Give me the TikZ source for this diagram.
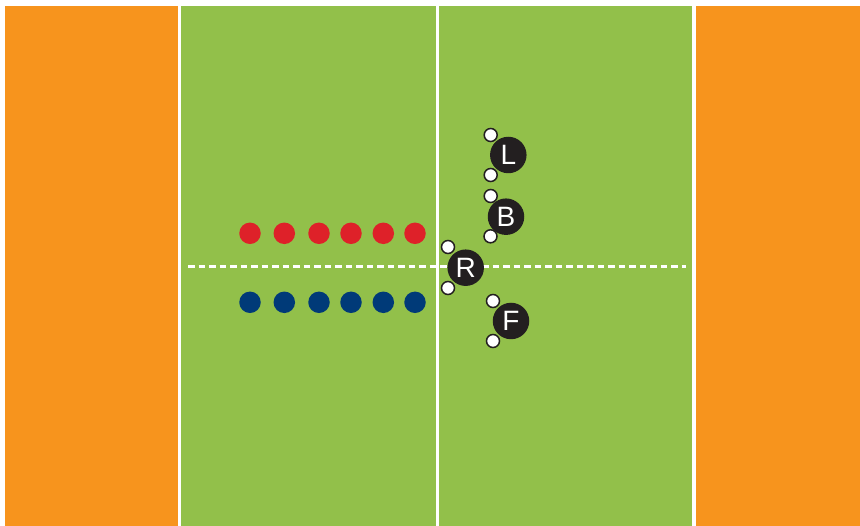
\documentclass[tikz,border=0pt]{standalone}
\usepackage{fontspec}
\setmainfont{Liberation Sans}
\usetikzlibrary{positioning}
\definecolor{pitchgreen}{HTML}{92C04A}
\definecolor{endorange}{HTML}{F7941D}
\definecolor{teamred}{HTML}{DE2129}
\definecolor{teamblue}{HTML}{003A78}
\definecolor{playerblack}{HTML}{231F20}

\begin{document}
\begin{tikzpicture}[x=1pt, y=-1pt,
    zone/.style={fill=endorange, draw=none},
    pitch/.style={fill=pitchgreen, draw=none},
    halfway/.style={draw=white, line width=3pt},
    midline/.style={draw=white, line width=2.5pt, dash pattern=on 6.5pt off 4pt},
    reddot/.style={circle, fill=teamred, minimum size=21.5pt, inner sep=0pt},
    bluedot/.style={circle, fill=teamblue, minimum size=21.5pt, inner sep=0pt},
    player/.style={circle, fill=playerblack, minimum size=36.5pt, inner sep=0pt, text=white, font=\fontsize{28}{28}\selectfont},
    hand/.style={circle, fill=white, draw=playerblack, line width=1.5pt, minimum size=13pt, inner sep=0pt}
]
\useasboundingbox (0,0) rectangle (860,526);
% field
\fill[zone] (5,6.5) rectangle (178,526);
\fill[zone] (696,6.5) rectangle (860,526);
\fill[pitch] (181,6.5) rectangle (692,526);
\coordinate (top) at (437.6,6.5);
\coordinate (bottom) at (437.6,526);
\draw[halfway] (top) -- (bottom);
\coordinate (west) at (188,266.5);
\coordinate (east) at (686,266.5);
\draw[midline] (west) -- (east);

% red line-up
\node[reddot] (r1) at (250,233.3) {};
\node[reddot] (r2) at (284.3,233.3) {};
\node[reddot] (r3) at (319,233.3) {};
\node[reddot] (r4) at (351,233.3) {};
\node[reddot] (r5) at (383.3,233.3) {};
\node[reddot] (r6) at (415,233.3) {};

% blue line-up
\node[bluedot] (b1) at (250,302.3) {};
\node[bluedot] (b2) at (284.3,302.3) {};
\node[bluedot] (b3) at (319,302.3) {};
\node[bluedot] (b4) at (351,302.3) {};
\node[bluedot] (b5) at (383.3,302.3) {};
\node[bluedot] (b6) at (415,302.3) {};

% players
\node[player] (lead) at (508.3,155) {L};
\node[hand] (leadA) at (490.7,135) {};
\node[hand] (leadB) at (490.7,175) {};

\node[player] (back) at (506,216.7) {B};
\node[hand] (backA) at (490.7,196) {};
\node[hand] (backB) at (490.5,236.3) {};

\node[player] (ref) at (465.7,267.7) {R};
\node[hand] (refA) at (448,247) {};
\node[hand] (refB) at (448,288) {};

\node[player] (front) at (511,321) {F};
\node[hand] (frontA) at (493,301) {};
\node[hand] (frontB) at (493,341) {};
\end{tikzpicture}
\end{document}
